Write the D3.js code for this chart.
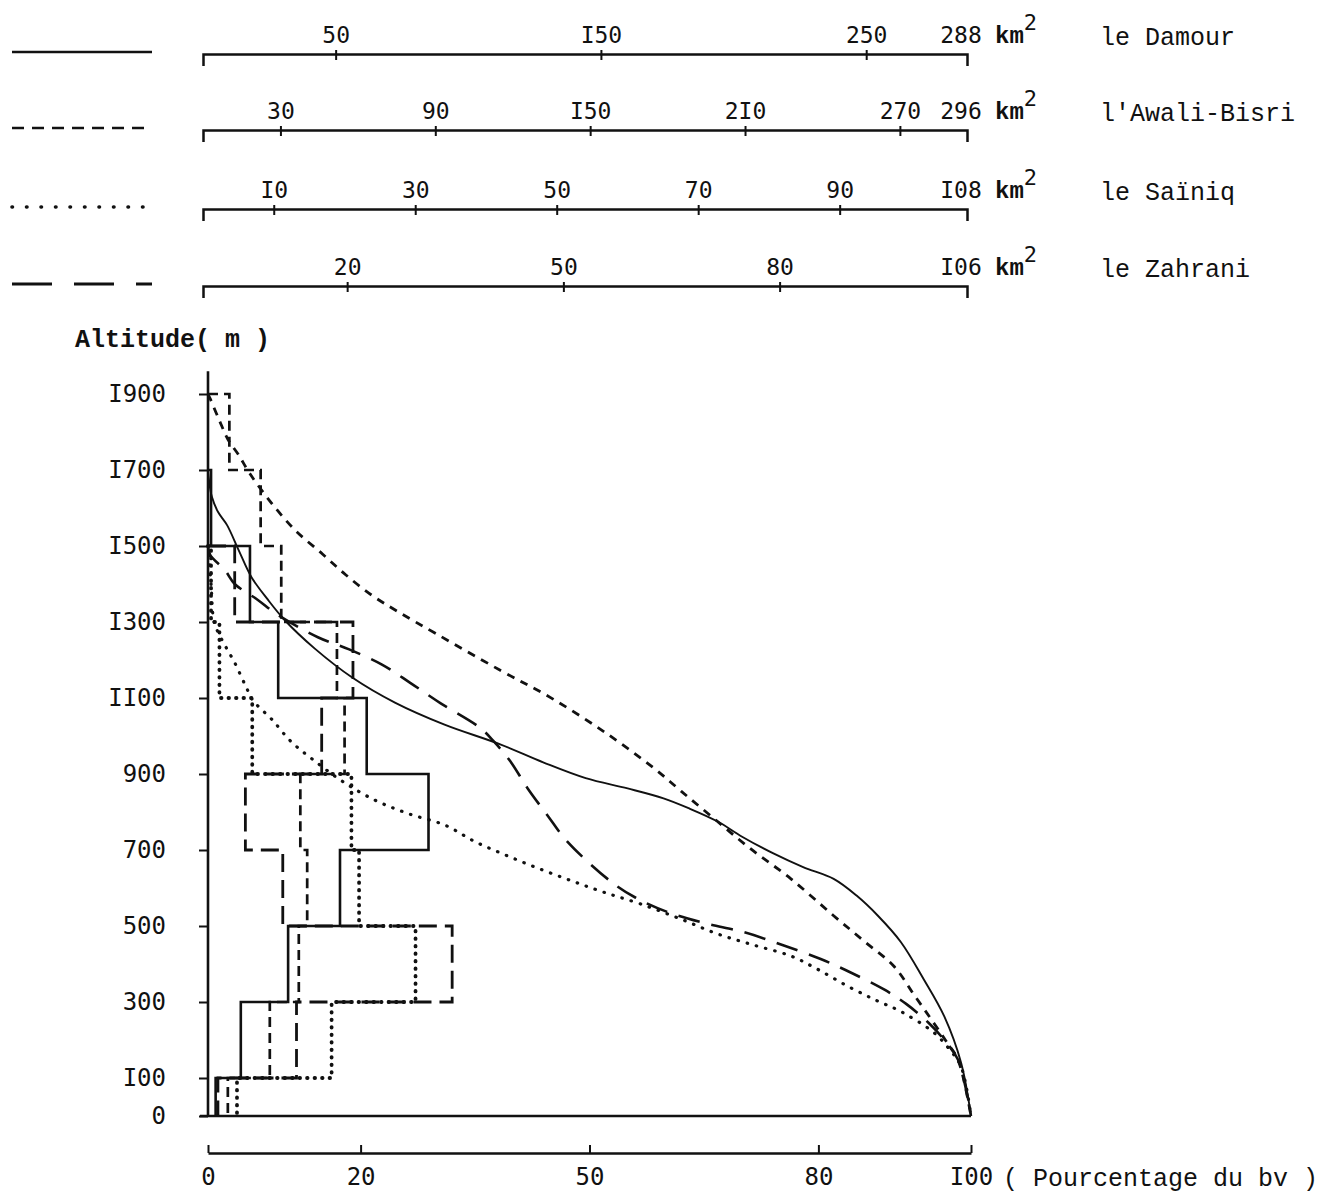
<!DOCTYPE html>
<html><head><meta charset="utf-8">
<script src="https://cdn.jsdelivr.net/npm/d3@7"></script>
<style>
html,body{margin:0;padding:0;background:#fff;}
svg{display:block;}
</style></head><body>
<svg id="chart" width="1321" height="1196"></svg>
<script>
// ---------------- data ----------------
const seriesNames = ["le Damour", "l'Awali-Bisri", "le Saïniq", "le Zahrani"];
const areasKm2 = [288, 296, 108, 106];
const areaEndLabels = ["288", "296", "I08", "I06"];
const areaTickValues = [[50,150,250],[30,90,150,210,270],[10,30,50,70,90],[20,50,80]];
const areaTickLabels = [["50","I50","250"],["30","90","I50","2I0","270"],["I0","30","50","70","90"],["20","50","80"]];

const altitudeTicks = [0,100,300,500,700,900,1100,1300,1500,1700,1900];
const altitudeTickLabels = ["0","I00","300","500","700","900","II00","I300","I500","I700","I900"];
const percentTicks = [0,20,50,80,100];
const percentTickLabels = ["0","20","50","80","I00"];

// altitude bands (m), bottom-up; histogram values = % of basin area in band
const bandEdges = [0,100,300,500,700,900,1100,1300,1500,1700,1900];
const histDamour  = [1.0, 4.3, 10.5, 17.3, 28.9, 20.8, 9.2, 5.5, 0.4, null];
const histAwali   = [2.6, 8.1, 11.9, 13.0, 12.1, 17.9, 16.9, 9.6, 6.9, 2.8];
const histSainiq  = [3.8, 16.2, 27.2, 19.8, 18.8, 5.8, 1.5, 0.4, null, null];
const histZahrani = [1.3, 11.6, 32.0, 9.8, 4.9, 14.9, 19.0, 3.5, null, null];

// hypsometric curves: [cumulative % of area, altitude m]
const curveDamour = [[0,1700],[0.15,1670],[0.5,1630],[1.3,1590],[2.5,1555],[4,1490],[5.7,1418],[7.8,1360],[10.1,1304],[14,1230],[18.9,1154],[24.5,1088],[31,1030],[38.3,978],[44,930],[49.5,889],[55,862],[59.7,836],[63,810],[66.8,775],[70,735],[74.1,691],[78,655],[82,624],[85,580],[87.8,527],[90.8,458],[93.8,360],[96.5,262],[98.7,140],[100,0]];
const curveAwali = [[0,1900],[0.3,1887],[1.5,1830],[2.6,1781],[4,1740],[5.5,1690],[8.4,1611],[11.5,1540],[15,1479],[18,1425],[21.5,1370],[25,1326],[30,1268],[38.3,1173],[44.9,1101],[52,1010],[58.4,916],[62,855],[66.3,783],[71,705],[76.4,624],[82,527],[86,460],[89.9,394],[92.5,320],[94.8,254],[96.8,195],[98.3,148],[100,0]];
const curveSainiq = [[0,1500],[0.4,1400],[0.8,1300],[1.6,1262],[2.6,1225],[3.5,1193],[4.9,1133],[5.9,1093],[6.8,1074],[8.4,1043],[10.8,987],[13.8,937],[17.6,881],[21.9,831],[26.2,796],[31.1,765],[35,722],[39.2,685],[43.5,650],[47.9,617],[52,588],[56.7,558],[62,518],[66.8,479],[71.5,450],[76.4,421],[80,385],[83.9,341],[87.5,305],[90.8,275],[95.1,220],[97.2,175],[98.7,130],[100,0]];
const curveZahrani = [[0,1500],[0.3,1476],[2.2,1437],[3.5,1400],[6.4,1360],[9.2,1318],[14.4,1260],[18.5,1228],[22.8,1188],[26.5,1140],[30.5,1086],[35.7,1021],[37.4,987],[39.6,934],[41.9,862],[44.5,791],[47.1,722],[52.8,617],[56,575],[60.2,537],[65,508],[70.2,484],[75,452],[80.3,413],[84.5,375],[88.6,333],[91.5,295],[94.4,246],[96.5,200],[98.3,148],[100,0]];

const histograms = [histDamour, histAwali, histSainiq, histZahrani];
const curves = [curveDamour, curveAwali, curveSainiq, curveZahrani];

// ---------------- styles / layout ----------------
const ink = "#111";
const styles = [
  {curveDash:null,   curveW:1.9, histDash:null,   histW:2.6, cap:"butt",  legDash:null,    legW:2.6},
  {curveDash:"8,7",  curveW:2.8, histDash:"10,6", histW:2.7, cap:"butt",  legDash:"12,8",  legW:2.6},
  {curveDash:"0.5,9",curveW:3.2, histDash:"0.5,7",histW:3.8, cap:"round", legDash:"0.5,14",legW:3.6},
  {curveDash:"22,12",curveW:2.6, histDash:"18,8", histW:2.8, cap:"butt",  legDash:"40,22", legW:3}
];
const topAxisY = [54, 130, 209, 286];
const numFont = "DejaVu Sans Mono";
const txtFont = "Liberation Mono";

const svg = d3.select("#chart");
const x = d3.scaleLinear().domain([0,100]).range([208,971]);
const y = d3.scaleLinear().domain([0,1900]).range([1116,394]);

// ---------------- top area scales ----------------
areasKm2.forEach((tot,i)=>{
  const s = d3.scaleLinear().domain([0,tot]).range([203,967]);
  const g = svg.append("g").attr("transform",`translate(0,${topAxisY[i]})`);
  g.call(d3.axisTop(s).tickValues(areaTickValues[i])
      .tickFormat((d,j)=>areaTickLabels[i][j])
      .tickSizeInner(-6).tickSizeOuter(-12).tickPadding(11));
  g.select(".domain").attr("stroke",ink).attr("stroke-width",2.5);
  g.selectAll(".tick line").attr("stroke",ink).attr("stroke-width",2).attr("y1",-4);
  g.selectAll(".tick text").attr("fill",ink).attr("font-family",numFont).attr("font-size",23);
  g.append("text").attr("x",s(tot)-6).attr("y",-11).attr("text-anchor","middle")
    .attr("font-family",numFont).attr("font-size",23).attr("fill",ink).text(areaEndLabels[i]);
  const km = g.append("text").attr("x",s(tot)+28).attr("y",-11).attr("text-anchor","start")
    .attr("font-family",txtFont).attr("font-size",24).attr("font-weight","bold").attr("fill",ink);
  km.append("tspan").text("km");
  km.append("tspan").attr("dy",-13).attr("font-size",22).attr("font-weight","normal").attr("font-family",numFont).text("2");
  g.append("text").attr("x",1100).attr("y",-9).attr("text-anchor","start")
    .attr("font-family",txtFont).attr("font-size",25).attr("fill",ink).text(seriesNames[i]);
  // legend sample
  g.append("line").attr("x1",12).attr("x2",152).attr("y1",-2).attr("y2",-2)
    .attr("stroke",ink).attr("stroke-width",styles[i].legW)
    .attr("stroke-dasharray",styles[i].legDash).attr("stroke-linecap",styles[i].cap);
});

// ---------------- main axes ----------------
const yAxisTopAlt = 1960;
svg.append("line").attr("x1",x(0)).attr("x2",x(0)).attr("y1",y(yAxisTopAlt)).attr("y2",y(0))
  .attr("stroke",ink).attr("stroke-width",2.6);
const gy = svg.append("g").attr("transform",`translate(${x(0)},0)`)
  .call(d3.axisLeft(y).tickValues(altitudeTicks).tickFormat((d,i)=>altitudeTickLabels[i])
        .tickSize(9).tickPadding(33));
gy.select(".domain").remove();
gy.selectAll(".tick line").attr("stroke",ink).attr("stroke-width",2);
gy.selectAll(".tick text").attr("fill",ink).attr("font-family",numFont).attr("font-size",24);

// baseline at altitude 0
svg.append("line").attr("x1",x(0)-8).attr("x2",x(100)).attr("y1",y(0)).attr("y2",y(0))
  .attr("stroke",ink).attr("stroke-width",2.6);

// bottom percentage axis
const gx = svg.append("g").attr("transform","translate(0,1153)")
  .call(d3.axisBottom(x).tickValues(percentTicks).tickFormat((d,i)=>percentTickLabels[i])
        .tickSizeInner(-8).tickSizeOuter(0).tickPadding(15));
gx.select(".domain").attr("stroke",ink).attr("stroke-width",2.5);
gx.selectAll(".tick line").attr("stroke",ink).attr("stroke-width",2);
gx.selectAll(".tick text").attr("fill",ink).attr("font-family",numFont).attr("font-size",24);

svg.append("text").attr("x",1003).attr("y",1186).attr("font-family",txtFont).attr("font-size",25)
  .attr("fill",ink).text("( Pourcentage du bv )");
svg.append("text").attr("x",75).attr("y",347).attr("font-family",txtFont).attr("font-size",25)
  .attr("font-weight","bold").attr("fill",ink).text("Altitude( m )");

// ---------------- histograms ----------------
const lineXY = d3.line().x(d=>x(d[0])).y(d=>y(d[1]));
histograms.forEach((h,i)=>{
  const pts = [];
  for (let b = h.length-1; b >= 0; b--) {
    const v = h[b];
    if (v === null) continue;
    const top = bandEdges[b+1], bot = bandEdges[b];
    if (pts.length === 0) pts.push([0, top]);
    pts.push([v, top]); pts.push([v, bot]);
  }
  svg.append("path").attr("d", lineXY(pts)).attr("fill","none")
    .attr("stroke",ink).attr("stroke-width",styles[i].histW)
    .attr("stroke-dasharray",styles[i].histDash).attr("stroke-linecap",styles[i].cap)
    .attr("stroke-linejoin","miter");
});

// ---------------- hypsometric curves ----------------
const curveGen = d3.line().x(d=>x(d[0])).y(d=>y(d[1])).curve(d3.curveCatmullRom.alpha(0.5));
curves.forEach((c,i)=>{
  svg.append("path").attr("d", curveGen(c)).attr("fill","none")
    .attr("stroke",ink).attr("stroke-width",styles[i].curveW)
    .attr("stroke-dasharray",styles[i].curveDash).attr("stroke-linecap",styles[i].cap);
});
</script>
</body></html>
